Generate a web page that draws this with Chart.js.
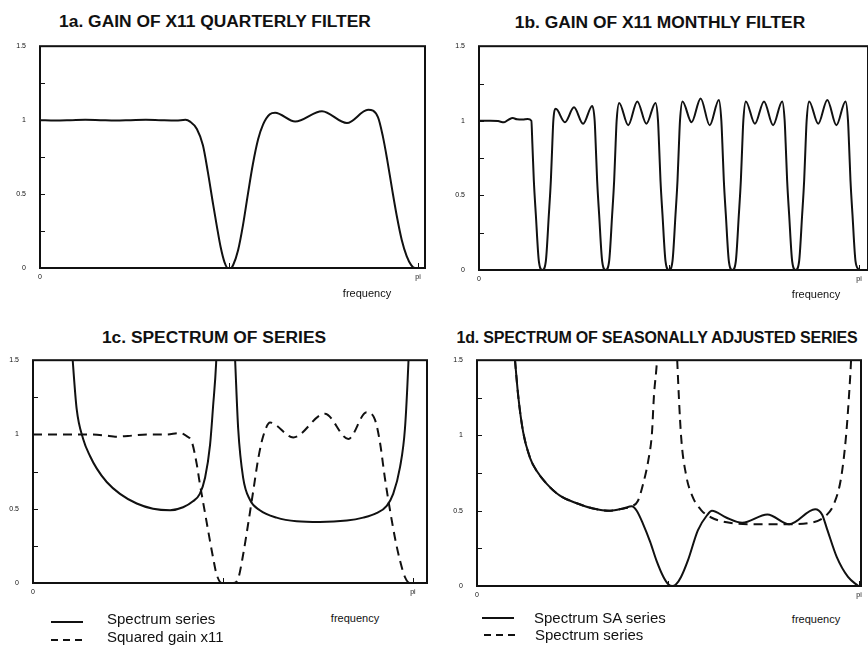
<!DOCTYPE html>
<html>
<head>
<meta charset="utf-8">
<title>X11 filter gains and spectra</title>
<script src="https://cdn.jsdelivr.net/npm/chart.js@4.4.1/dist/chart.umd.min.js"></script>
<style>
  body { margin: 0; background: #fff; font-family: "Liberation Sans", Arial, sans-serif; color: #111; }
  #page { position: relative; width: 868px; height: 645px; overflow: hidden; }
  canvas { position: absolute; }
  .title { position: absolute; font-weight: bold; font-size: 17.4px; white-space: nowrap; transform: translate(-50%, -50%); }
  .title.long { font-size: 16px; letter-spacing: -0.2px; }
  .freq { position: absolute; font-size: 11px; white-space: nowrap; transform: translate(-50%, -50%); }
  .key { position: absolute; font-size: 15px; white-space: nowrap; }
  svg.sample { position: absolute; overflow: visible; }
</style>
</head>
<body>
<div id="page">
  <div class="title" style="left:215px;top:21px">1a. GAIN OF X11 QUARTERLY FILTER</div>
  <div class="title" style="left:660px;top:22px">1b. GAIN OF X11 MONTHLY FILTER</div>
  <div class="title" style="left:214px;top:337px">1c. SPECTRUM OF SERIES</div>
  <div class="title long" style="left:657px;top:338px">1d. SPECTRUM OF SEASONALLY ADJUSTED SERIES</div>

  <canvas id="chartA"></canvas>
  <canvas id="chartB"></canvas>
  <canvas id="chartC"></canvas>
  <canvas id="chartD"></canvas>

  <div class="freq" style="left:367px;top:293px">frequency</div>
  <div class="freq" style="left:816px;top:294px">frequency</div>
  <div class="freq" style="left:355px;top:618px">frequency</div>
  <div class="freq" style="left:816px;top:619px">frequency</div>

  <!-- legend, panel c -->
  <svg class="sample" style="left:51px;top:621px" width="32" height="2"><line x1="0" y1="1" x2="32" y2="1" stroke="#111" stroke-width="2"/></svg>
  <div class="key" style="left:107px;top:610px">Spectrum series</div>
  <svg class="sample" style="left:51px;top:639px" width="32" height="2"><line x1="0" y1="1" x2="32" y2="1" stroke="#111" stroke-width="2" stroke-dasharray="7 5"/></svg>
  <div class="key" style="left:107px;top:628px">Squared gain x11</div>

  <!-- legend, panel d -->
  <svg class="sample" style="left:482px;top:617px" width="32" height="2"><line x1="0" y1="1" x2="32" y2="1" stroke="#111" stroke-width="2"/></svg>
  <div class="key" style="left:534px;top:609px">Spectrum SA series</div>
  <svg class="sample" style="left:484px;top:634px" width="32" height="2"><line x1="0" y1="1" x2="32" y2="1" stroke="#111" stroke-width="2" stroke-dasharray="7 5"/></svg>
  <div class="key" style="left:535px;top:626px">Spectrum series</div>
</div>

<script>
// frequencies are fractions of pi
const xLabelValues = [0, 1];
const xTickLabels = ['0', 'pi'];
const xTickMarks = [0.5, 1];
const yTickMarks = [0.25, 0.5, 0.75, 1, 1.25];

// 1a: gain of the quarterly filter
const freqA = [0, 0.04, 0.08, 0.12, 0.16, 0.2, 0.24, 0.28, 0.32, 0.36,
  0.385, 0.397, 0.415, 0.431, 0.444, 0.458, 0.468, 0.478, 0.488, 0.497,
  0.505, 0.511, 0.524, 0.537, 0.55, 0.563, 0.577, 0.59, 0.608, 0.622,
  0.675, 0.746, 0.812, 0.868, 0.894, 0.907, 0.918, 0.931, 0.944, 0.957,
  0.97, 0.982, 0.992, 1.0];
const gainA = [1.0, 0.998, 1.0, 1.003, 1.0, 0.997, 1.0, 1.003, 1.0, 0.998,
  1.002, 0.99, 0.94, 0.83, 0.65, 0.43, 0.28, 0.14, 0.04, 0,
  0, 0.02, 0.12, 0.29, 0.5, 0.7, 0.87, 0.97, 1.04, 1.05,
  0.99, 1.06, 0.98, 1.07, 1.02, 0.89, 0.74, 0.54, 0.35, 0.19,
  0.08, 0.02, 0, 0];

// 1b: gain of the monthly filter
const freqB = [0, 0.03, 0.05, 0.066, 0.078, 0.089, 0.1, 0.115, 0.128,
  0.1378, 0.1404, 0.1443, 0.1496, 0.1575, 0.1667, 0.1759, 0.1838, 0.1891, 0.193, 0.1956,
  0.2022, 0.2261, 0.25, 0.2739, 0.2979,
  0.3044, 0.307, 0.3109, 0.3162, 0.3241, 0.3333, 0.3425, 0.3504, 0.3557, 0.3596, 0.3622,
  0.3688, 0.3927, 0.4166, 0.4405, 0.4645,
  0.4711, 0.4737, 0.4776, 0.4829, 0.4908, 0.5, 0.5092, 0.5171, 0.5224, 0.5263, 0.5289,
  0.5355, 0.5594, 0.5833, 0.6072, 0.6312,
  0.6378, 0.6404, 0.6443, 0.6496, 0.6575, 0.6667, 0.6759, 0.6838, 0.6891, 0.693, 0.6956,
  0.7022, 0.7261, 0.75, 0.7739, 0.7979,
  0.8044, 0.807, 0.8109, 0.8162, 0.8241, 0.8333, 0.8425, 0.8504, 0.8557, 0.8596, 0.8622,
  0.8688, 0.8927, 0.9166, 0.9405, 0.9645,
  0.9711, 0.9737, 0.9776, 0.9829, 0.9908, 1.0];
const gainB = [1.0, 1.0, 0.998, 0.99, 1.008, 1.018, 1.01, 1.008, 1.012,
  1.0, 0.85, 0.6, 0.37, 0.06, 0, 0.06, 0.37, 0.6, 0.85, 1.0,
  1.08, 0.99, 1.09, 0.98, 1.1,
  1.0, 0.85, 0.6, 0.37, 0.06, 0, 0.06, 0.37, 0.6, 0.85, 1.0,
  1.12, 0.97, 1.13, 0.98, 1.12,
  1.0, 0.85, 0.6, 0.37, 0.06, 0, 0.06, 0.37, 0.6, 0.85, 1.0,
  1.13, 0.99, 1.15, 0.97, 1.14,
  1.0, 0.85, 0.6, 0.37, 0.06, 0, 0.06, 0.37, 0.6, 0.85, 1.0,
  1.13, 0.98, 1.13, 0.97, 1.13,
  1.0, 0.85, 0.6, 0.37, 0.06, 0, 0.06, 0.37, 0.6, 0.85, 1.0,
  1.13, 0.98, 1.14, 0.97, 1.13,
  1.0, 0.85, 0.6, 0.37, 0.06, 0];

// 1c: spectrum of the series (null splits the two branches)
const freqC = [0.094, 0.1045, 0.115, 0.132, 0.15, 0.168, 0.194, 0.229, 0.273, 0.316,
  0.361, 0.395, 0.421, 0.439, 0.453, 0.466, 0.474, 0.482, 0.488, 0.507,
  0.525, 0.532, 0.54, 0.553, 0.571, 0.597, 0.641, 0.694, 0.755, 0.826,
  0.869, 0.904, 0.931, 0.948, 0.966, 0.979, 0.988, 0.994];
const spectrumC = [1.9, 1.5, 1.17, 0.97, 0.855, 0.77, 0.68, 0.6, 0.535, 0.5,
  0.49, 0.51, 0.55, 0.6, 0.71, 0.93, 1.19, 1.48, 1.9, null,
  1.9, 1.5, 1.04, 0.71, 0.56, 0.49, 0.44, 0.415, 0.41, 0.42,
  0.44, 0.47, 0.52, 0.6, 0.78, 1.04, 1.48, 1.9];

// 1c: squared gain of the quarterly filter
const freqC2 = [0, 0.05, 0.1, 0.15, 0.2, 0.216, 0.25, 0.3, 0.35, 0.387,
  0.404, 0.418, 0.431, 0.439, 0.448, 0.457, 0.466, 0.474, 0.483, 0.497,
  0.527, 0.54, 0.553, 0.567, 0.58, 0.593, 0.606, 0.624, 0.685, 0.768,
  0.83, 0.878, 0.9, 0.913, 0.926, 0.939, 0.953, 0.966, 0.979, 0.992,
  1.0];
const gainSqC = [1.0, 1.0, 1.0, 1.0, 0.99, 0.985, 0.99, 1.0, 1.0, 1.01,
  0.99, 0.95, 0.8, 0.67, 0.54, 0.41, 0.28, 0.17, 0.06, 0,
  0, 0.03, 0.19, 0.41, 0.625, 0.84, 0.99, 1.08, 0.98, 1.14,
  0.97, 1.15, 1.1, 0.95, 0.71, 0.5, 0.3, 0.15, 0.04, 0,
  0];

// 1d: spectrum of the seasonally adjusted series
const freqD = [0.09, 0.0995, 0.108, 0.121, 0.139, 0.156, 0.182, 0.217, 0.261, 0.304,
  0.348, 0.383, 0.405, 0.418, 0.435, 0.453, 0.47, 0.488, 0.502, 0.511,
  0.52, 0.534, 0.552, 0.578, 0.602, 0.615, 0.652, 0.694, 0.76, 0.817,
  0.885, 0.903, 0.916, 0.942, 0.971, 0.998];
const spectrumSaD = [1.8, 1.5, 1.26, 1.02, 0.85, 0.765, 0.68, 0.6, 0.55, 0.515,
  0.5, 0.515, 0.53, 0.5, 0.41, 0.295, 0.167, 0.06, 0.008, 0,
  0.008, 0.06, 0.17, 0.37, 0.47, 0.5, 0.455, 0.42, 0.475, 0.41,
  0.51, 0.475, 0.38, 0.19, 0.06, 0];

// 1d: spectrum of the raw series, same scale
const freqD2 = [0.09, 0.0995, 0.108, 0.121, 0.139, 0.156, 0.182, 0.217, 0.261, 0.304,
  0.348, 0.383, 0.405, 0.421, 0.435, 0.448, 0.458, 0.463, 0.471, 0.478,
  0.5, 0.518, 0.524, 0.534, 0.547, 0.563, 0.586, 0.613, 0.654, 0.717,
  0.804, 0.874, 0.916, 0.935, 0.953, 0.966, 0.974, 0.979, 0.985];
const spectrumD = [1.8, 1.5, 1.26, 1.02, 0.85, 0.765, 0.68, 0.6, 0.55, 0.515,
  0.5, 0.515, 0.53, 0.565, 0.68, 0.83, 1.02, 1.26, 1.5, 1.9,
  null, 1.9, 1.5, 1.0, 0.74, 0.6, 0.506, 0.455, 0.423, 0.41,
  0.41, 0.42, 0.474, 0.55, 0.72, 1.0, 1.28, 1.5, 1.9];

const tickFont = { family: '"Liberation Sans", Arial, sans-serif', size: 7 };
const dash = [9, 6];

function points(xs, ys) {
  return xs.map((x, i) => ({ x: x, y: ys[i] }));
}

// outline box plus the short inward tick marks
const boxFrame = {
  id: 'boxFrame',
  afterDatasetsDraw(chart) {
    const { ctx, chartArea: a, scales } = chart;
    ctx.save();
    ctx.strokeStyle = '#111';
    ctx.lineWidth = 2;
    ctx.strokeRect(a.left, a.top, a.right - a.left, a.bottom - a.top);
    ctx.lineWidth = 1;
    ctx.beginPath();
    yTickMarks.forEach(v => {
      const py = Math.round(scales.y.getPixelForValue(v)) + 0.5;
      ctx.moveTo(a.left, py);
      ctx.lineTo(a.left + 5, py);
    });
    xTickMarks.forEach(v => {
      const px = Math.round(scales.x.getPixelForValue(v)) + 0.5;
      ctx.moveTo(px, a.bottom);
      ctx.lineTo(px, a.bottom - 5);
    });
    ctx.stroke();
    ctx.restore();
  }
};

// cv = canvas rect on the page, plot = plot box on the page
function drawPanel(id, cv, plot, xMax, datasets) {
  const el = document.getElementById(id);
  el.width = cv.w;
  el.height = cv.h;
  el.style.left = cv.x + 'px';
  el.style.top = cv.y + 'px';

  return new Chart(el, {
    type: 'line',
    data: { datasets: datasets },
    options: {
      responsive: false,
      animation: false,
      events: [],
      layout: { padding: { left: 0, top: plot.t - cv.y, right: cv.x + cv.w - plot.r, bottom: 0 } },
      plugins: { legend: { display: false }, tooltip: { enabled: false } },
      elements: {
        point: { radius: 0 },
        line: { cubicInterpolationMode: 'monotone', borderColor: '#111', borderWidth: 2, borderJoinStyle: 'round', fill: false }
      },
      scales: {
        x: {
          type: 'linear',
          min: 0,
          max: xMax,
          grid: { display: false, drawTicks: false },
          border: { display: false },
          afterBuildTicks: s => { s.ticks = xLabelValues.map(v => ({ value: v })); },
          afterFit: s => { s.height = cv.y + cv.h - plot.b; },
          ticks: {
            autoSkip: false,
            maxRotation: 0,
            padding: 5,
            font: tickFont,
            color: '#111',
            callback: (v, i) => xTickLabels[i]
          }
        },
        y: {
          min: 0,
          max: 1.5,
          grid: { display: false, drawTicks: false },
          border: { display: false },
          afterFit: s => { s.width = plot.l - cv.x; },
          ticks: { stepSize: 0.5, padding: 14, font: tickFont, color: '#111', callback: v => String(v) }
        }
      }
    },
    plugins: [boxFrame]
  });
}

drawPanel('chartA', { x: 0, y: 28, w: 434, h: 272 }, { l: 40, t: 36, r: 425, b: 268 }, 1.0185, [
  { data: points(freqA, gainA) }
]);

drawPanel('chartB', { x: 434, y: 28, w: 434, h: 272 }, { l: 479, t: 37, r: 868, b: 270 }, 1.0237, [
  { data: points(freqB, gainB) }
]);

drawPanel('chartC', { x: 0, y: 342, w: 434, h: 270 }, { l: 33, t: 351, r: 427, b: 583 }, 1.037, [
  { label: 'Spectrum series', data: points(freqC, spectrumC), spanGaps: false },
  { label: 'Squared gain x11', data: points(freqC2, gainSqC), borderDash: dash }
]);

drawPanel('chartD', { x: 434, y: 342, w: 434, h: 270 }, { l: 477, t: 351, r: 861, b: 586 }, 1.005, [
  { label: 'Spectrum SA series', data: points(freqD, spectrumSaD) },
  { label: 'Spectrum series', data: points(freqD2, spectrumD), borderDash: dash, spanGaps: false }
]);
</script>
</body>
</html>
